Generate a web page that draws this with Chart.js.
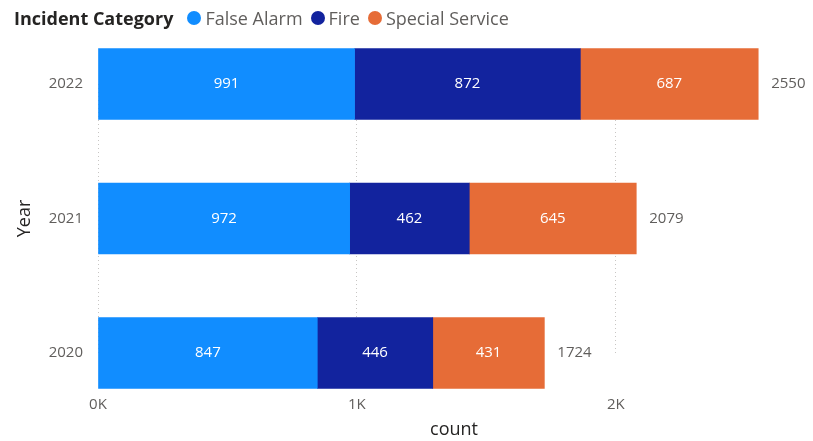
<!DOCTYPE html>
<html>
<head>
<meta charset="utf-8">
<script src="https://cdn.jsdelivr.net/npm/chart.js@4/dist/chart.umd.min.js"></script>
<style>
  html, body { margin:0; padding:0; background:#fff; }
  #wrap { position:relative; width:813px; height:441px; font-family:"Open Sans", sans-serif; }
  #legend { position:absolute; top:5px; left:14px; display:flex; align-items:center; font-size:18px; line-height:26px; color:#605E5C; white-space:nowrap; }
  #legend .title { font-weight:700; color:#252423; margin-right:14px; }
  #legend .item { display:flex; align-items:center; margin-right:8px; }
  #legend .dot { width:14px; height:14px; border-radius:50%; margin-right:4px; }
</style>
</head>
<body>
<div id="wrap">
  <div id="legend"></div>
  <canvas id="incident-chart" width="813" height="441"></canvas>
</div>
<script>
// data
const years = ['2022', '2021', '2020'];
const categories = ['False Alarm', 'Fire', 'Special Service'];
const falseAlarm = [991, 972, 847];
const fire = [872, 462, 446];
const specialService = [687, 645, 431];
const xTickValues = [0, 1000, 2000];

const colors = ['#118DFF', '#12239E', '#E66C37'];
const seriesValues = [falseAlarm, fire, specialService];
const totals = years.map((y, i) => falseAlarm[i] + fire[i] + specialService[i]);

// html legend
let legend = document.getElementById('legend');
let html = '<span class="title">Incident Category</span>';
categories.forEach((c, i) => {
  html += '<span class="item"><span class="dot" style="background:' + colors[i] + '"></span>' + c + '</span>';
});
legend.innerHTML = html;

const labelPlugin = {
  id: 'barLabels',
  afterDatasetsDraw(chart) {
    const ctx = chart.ctx;
    ctx.save();
    ctx.font = '15px "Open Sans"';
    ctx.textBaseline = 'middle';
    chart.data.datasets.forEach((ds, i) => {
      chart.getDatasetMeta(i).data.forEach((bar, j) => {
        ctx.fillStyle = '#ffffff';
        ctx.textAlign = 'center';
        ctx.fillText(ds.data[j], (bar.x + bar.base) / 2, bar.y);
      });
    });
    const last = chart.getDatasetMeta(chart.data.datasets.length - 1);
    last.data.forEach((bar, j) => {
      ctx.fillStyle = '#605E5C';
      ctx.textAlign = 'left';
      ctx.fillText(totals[j], bar.x + 13, bar.y);
    });
    ctx.restore();
  }
};

let incidentChart = new Chart('incident-chart', {
  type: 'bar',
  data: {
    labels: years,
    datasets: categories.map((c, i) => ({
      label: c,
      data: seriesValues[i],
      backgroundColor: colors[i],
      borderWidth: 0,
      barThickness: 71,
      clip: false
    }))
  },
  options: {
    indexAxis: 'y',
    responsive: false,
    animation: false,
    layout: { padding: { top: 84, right: 3, left: 0, bottom: 0 } },
    plugins: {
      legend: { display: false },
      tooltip: { enabled: false }
    },
    scales: {
      x: {
        stacked: true,
        min: 0,
        max: 2750,
        afterBuildTicks: scale => {
          scale.ticks = xTickValues.map(v => ({ value: v }));
        },
        afterFit: scale => { scale.height = 88; },
        grid: { color: '#C8C6C4', lineWidth: 1, drawTicks: false },
        border: { display: false, dash: [1, 3] },
        ticks: {
          padding: 43,
          color: '#605E5C',
          font: { family: 'Open Sans', size: 15 },
          callback: v => (v / 1000) + 'K'
        },
        title: {
          display: true,
          text: 'count',
          color: '#252423',
          font: { family: 'Open Sans', size: 18 },
          padding: { top: 4, bottom: 0 }
        }
      },
      y: {
        stacked: true,
        offset: false,
        afterFit: scale => { scale.width = 98; },
        grid: { display: false, drawTicks: false },
        border: { display: false },
        ticks: {
          padding: 15,
          color: '#605E5C',
          font: { family: 'Open Sans', size: 15 }
        },
        title: {
          display: true,
          text: 'Year',
          color: '#252423',
          font: { family: 'Open Sans', size: 18 },
          padding: { top: 14, bottom: 0 }
        }
      }
    }
  },
  plugins: [labelPlugin]
});
</script>
</body>
</html>
